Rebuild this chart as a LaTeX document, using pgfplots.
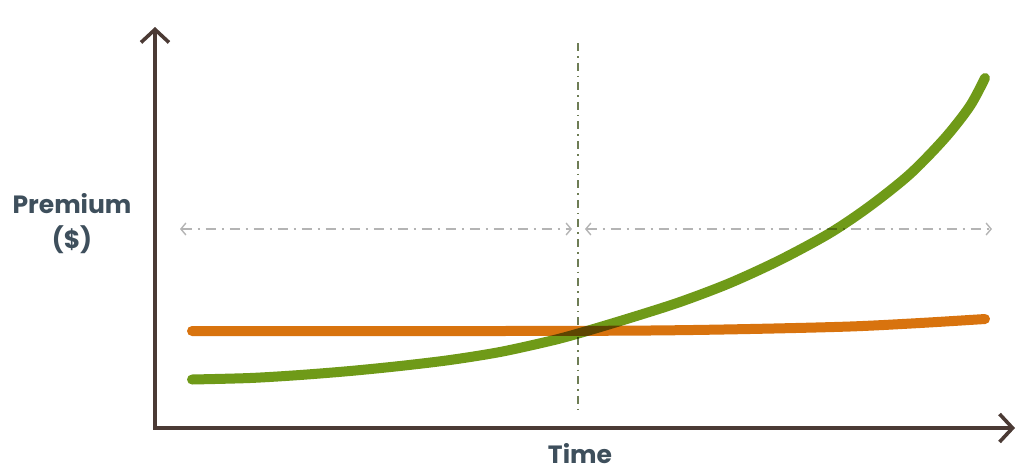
\documentclass[border=0pt]{standalone}
\usepackage{pgfplots}
\pgfplotsset{compat=1.18}
\usepackage{fontspec}
\setmainfont{Poppins}
\usetikzlibrary{arrows.meta}
\definecolor{axbrown}{HTML}{4B3A35}
\definecolor{grn}{HTML}{6F9A18}
\definecolor{org}{HTML}{D8730E}
\definecolor{vline}{HTML}{6E7D55}
\definecolor{garr}{HTML}{B4B4B4}
\definecolor{txt}{HTML}{3E4F5C}
\begin{document}
\begin{tikzpicture}
\begin{axis}[
  scale only axis, width=512pt, height=236pt,
  xmin=0, xmax=1024, ymin=0, ymax=472, y dir=reverse,
  axis lines=none, clip=false,
]
\path (axis cs:0,0) rectangle (axis cs:1024,472);
% axes
\addplot[axbrown, line width=1.8pt, {Straight Barb[length=6.5pt,width=14pt,line width=1.8pt]}-{Straight Barb[length=6.5pt,width=14pt,line width=1.8pt]}]
  coordinates {(155,27) (155,428) (1015,428)};
% vertical dash-dot line
\addplot[vline, line width=0.75pt, dash pattern=on 4pt off 2.5pt on 0.8pt off 2.5pt]
  coordinates {(578,43) (578,415)};
% horizontal double arrows
\addplot[garr, line width=0.7pt, dash pattern=on 5pt off 3pt on 1pt off 3pt,
  {Straight Barb[length=2.5pt,width=6pt]}-{Straight Barb[length=2.5pt,width=6pt]}]
  coordinates {(180,229) (572,229)};
\addplot[garr, line width=0.7pt, dash pattern=on 5pt off 3pt on 1pt off 3pt,
  {Straight Barb[length=2.5pt,width=6pt]}-{Straight Barb[length=2.5pt,width=6pt]}]
  coordinates {(585,229) (992,229)};
% orange
\addplot[org, line width=5pt, line cap=round, smooth]
  coordinates {(192,331) (500,331) (650,330.5) (750,329) (850,326.5) (920,323) (985,319)};
% green
\addplot[grn, line width=5pt, line cap=round, smooth, /tikz/blend mode=multiply]
  coordinates {(192,379.5) (250,378) (300,375) (350,371) (400,366) (450,360) (500,352) (550,341) (580,333) (630,318) (680,302) (730,283) (780,260) (830,233) (870,206) (910,174) (945,138) (970,106) (985,78)};
\node[txt, font=\bfseries\fontsize{12.5}{15}\selectfont] at (axis cs:72,204) {Premium};
\node[txt, font=\bfseries\fontsize{12.5}{15}\selectfont] at (axis cs:72,240) {(\$)};
\node[txt, font=\bfseries\fontsize{12.5}{15}\selectfont] at (axis cs:580,454) {Time};
\end{axis}
\end{tikzpicture}
\end{document}
